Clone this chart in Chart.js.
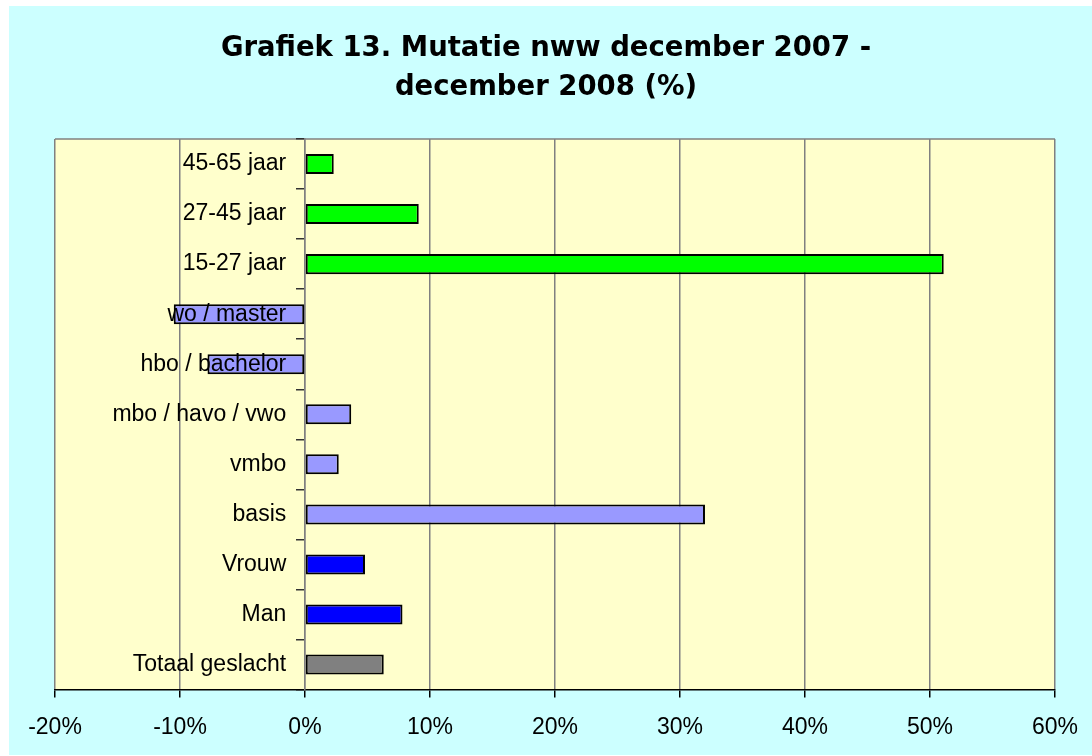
<!DOCTYPE html>
<html>
<head>
<meta charset="utf-8">
<script src="https://cdn.jsdelivr.net/npm/chart.js@4.4.1/dist/chart.umd.min.js"></script>
<style>
  body { margin: 0; background: #FFFFFF; }
  #wrap { width: 1092px; height: 756px; }
</style>
</head>
<body>
<div id="wrap"><canvas id="chart"></canvas></div>
<script>
// values, in % change dec 2007 - dec 2008
var categories = ['45-65 jaar', '27-45 jaar', '15-27 jaar', 'wo / master', 'hbo / bachelor',
    'mbo / havo / vwo', 'vmbo', 'basis', 'Vrouw', 'Man', 'Totaal geslacht'];
var mutatie = [2.3, 9.1, 51.1, -10.5, -7.8, 3.7, 2.7, 32.0, 4.8, 7.8, 6.3];
var groupColors = ['#00FF00', '#00FF00', '#00FF00', '#9999FF', '#9999FF',
    '#9999FF', '#9999FF', '#9999FF', '#0000FF', '#0000FF', '#808080'];
var titleLines = ['Grafiek 13. Mutatie nww december 2007 -', 'december 2008 (%)'];

var labelFont = { family: 'Liberation Sans, Arial, sans-serif', size: 23 };
var xFont = { family: 'Liberation Sans, Arial, sans-serif', size: 23, lineHeight: 1.41 };

// page background, plot background and top border, like the excel plot area
var plotArea = {
    id: 'plotArea',
    beforeDraw: function (chart) {
        var ctx = chart.ctx, a = chart.chartArea;
        ctx.save();
        ctx.fillStyle = '#CCFFFF';
        ctx.fillRect(9, 6, chart.width - 9, chart.height - 7);
        ctx.fillStyle = '#FFFFCC';
        ctx.fillRect(a.left, a.top, a.right - a.left, a.bottom - a.top);
        ctx.strokeStyle = '#808080';
        ctx.lineWidth = 1.5;
        ctx.beginPath();
        ctx.moveTo(a.left, a.top);
        ctx.lineTo(a.right, a.top);
        ctx.stroke();
        ctx.restore();
    }
};

var config = {
    type: 'bar',
    data: {
        labels: categories,
        datasets: [{
            data: mutatie,
            backgroundColor: groupColors,
            borderColor: '#000000',
            borderWidth: 2,
            borderSkipped: false,
            barPercentage: 0.8,
            categoryPercentage: 0.5
        }]
    },
    options: {
        indexAxis: 'y',
        responsive: true,
        maintainAspectRatio: false,
        animation: false,
        layout: { padding: { left: 37, right: 37, top: 0, bottom: -2 } },
        plugins: {
            legend: { display: false },
            tooltip: { enabled: false },
            title: {
                display: true,
                text: titleLines,
                color: '#000000',
                font: { family: 'DejaVu Sans, Verdana, sans-serif', size: 27.5, weight: 'bold', lineHeight: 1.4 },
                padding: { top: 30, bottom: 32 }
            }
        },
        scales: {
            x: {
                type: 'linear',
                min: -20,
                max: 60,
                ticks: {
                    stepSize: 10,
                    color: '#000000',
                    font: xFont,
                    padding: 14,
                    callback: function (v) { return v + '%'; }
                },
                grid: { color: '#808080', lineWidth: 1.5, tickColor: '#000000', tickLength: 8 },
                border: { color: '#000000', width: 1.5 }
            },
            // category labels, set a little left of the zero line and drawn over the bars
            y: {
                position: { x: -1.5 },
                ticks: { color: '#000000', font: labelFont, z: 1 },
                grid: { display: false },
                border: { display: false }
            },
            // zero line with the short tick marks between categories
            yTicks: {
                axis: 'y',
                type: 'category',
                position: { x: 0 },
                offset: true,
                ticks: { display: false },
                grid: { offset: true, drawOnChartArea: false, tickLength: 8, tickColor: '#333333', lineWidth: 1.5 },
                border: { color: '#808080', width: 1.5 }
            },
            // keeps the plot shifted right while the title stays centred on the page
            pad: {
                axis: 'y',
                type: 'linear',
                position: 'left',
                ticks: { display: false },
                grid: { display: false },
                border: { display: false },
                afterFit: function (scale) { scale.width = 18; }
            }
        }
    },
    plugins: [plotArea]
};

new Chart(document.getElementById('chart').getContext('2d'), config);
</script>
</body>
</html>
